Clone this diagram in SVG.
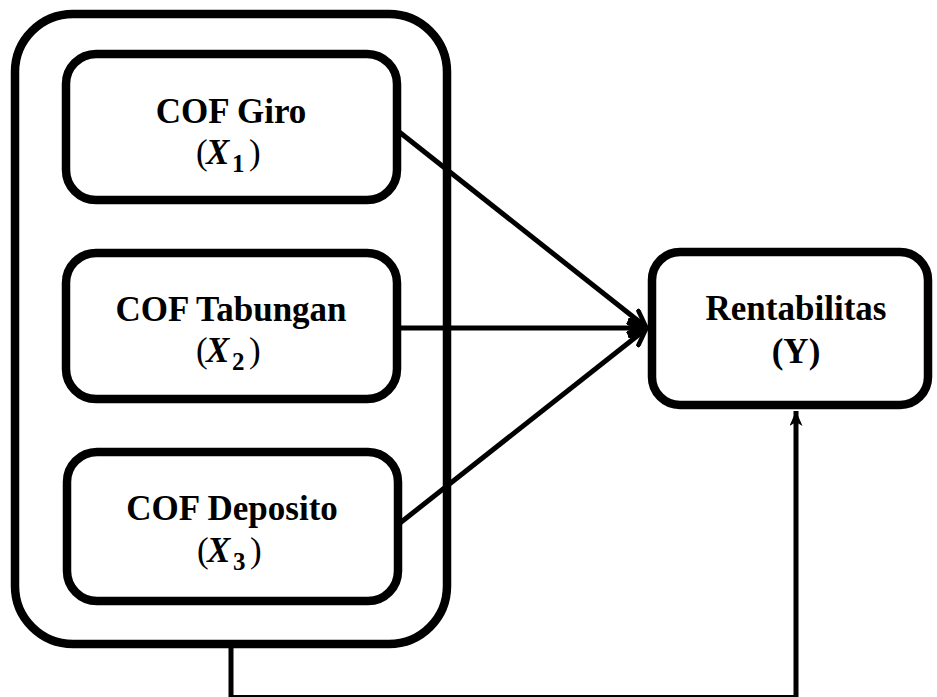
<svg xmlns="http://www.w3.org/2000/svg" width="937" height="697" viewBox="0 0 937 697">
<style>
.box{fill:#fff;stroke:#000;stroke-width:8.5}
.lbl{font-family:"Liberation Serif","Times New Roman",serif;font-weight:bold;font-size:35px;text-anchor:middle;fill:#000}
.math{font-family:"Liberation Serif","Times New Roman",serif;font-size:35px;fill:#000}
.mx{font-style:italic;font-weight:bold;font-size:35px}
.sub{font-size:25px;font-weight:bold}
.con{fill:none;stroke:#000;stroke-width:5}
</style>
<defs>
<marker id="chev" viewBox="0 0 20 20" refX="18" refY="10" markerWidth="20" markerHeight="20" markerUnits="userSpaceOnUse" orient="auto">
<path d="M2,2 L18,10 L2,18" fill="none" stroke="#000" stroke-width="4.5" stroke-linecap="round" stroke-linejoin="round"/>
</marker>
<marker id="stealth" viewBox="0 0 16 13" refX="15" refY="6.5" markerWidth="16" markerHeight="13" markerUnits="userSpaceOnUse" orient="auto">
<path d="M0,0 L15,6.5 L0,13 L4,6.5 Z" fill="#000"/>
</marker>
</defs>
<g id="group">
<rect class="box" x="15" y="14" width="432" height="630" rx="58" ry="58" stroke-width="9.5"/>
</g>
<g id="connectors">
<line class="con" x1="398" y1="131" x2="646" y2="327" marker-end="url(#chev)"/>
<line class="con" x1="398" y1="328" x2="646" y2="328" marker-end="url(#chev)"/>
<line class="con" x1="400" y1="523" x2="646" y2="329" marker-end="url(#chev)"/>
<polyline class="con" points="231,648 231,697.5 796,697.5 796,411" stroke-width="5" marker-end="url(#stealth)"/>
</g>
<g id="x1">
<rect class="box" x="66" y="54" width="331" height="146" rx="30" ry="30"/>
<text class="lbl" x="231" y="123">COF Giro</text>
<text class="math" y="164"><tspan x="196">(</tspan><tspan class="mx" x="206">X</tspan><tspan class="sub" x="232" y="172">1</tspan><tspan x="249" y="164">)</tspan></text>
</g>
<g id="x2">
<rect class="box" x="66" y="253" width="331" height="146" rx="30" ry="30"/>
<text class="lbl" x="231" y="321">COF Tabungan</text>
<text class="math" y="362"><tspan x="196">(</tspan><tspan class="mx" x="206">X</tspan><tspan class="sub" x="232" y="370">2</tspan><tspan x="249" y="362">)</tspan></text>
</g>
<g id="x3">
<rect class="box" x="67" y="452" width="331" height="149" rx="30" ry="30"/>
<text class="lbl" x="232" y="520">COF Deposito</text>
<text class="math" y="562"><tspan x="197">(</tspan><tspan class="mx" x="207">X</tspan><tspan class="sub" x="233" y="570">3</tspan><tspan x="250" y="562">)</tspan></text>
</g>
<g id="y">
<rect class="box" x="652" y="252" width="276" height="153" rx="28" ry="28"/>
<text class="lbl" x="796" y="320">Rentabilitas</text>
<text class="lbl" x="796" y="363">(Y)</text>
</g>
</svg>
